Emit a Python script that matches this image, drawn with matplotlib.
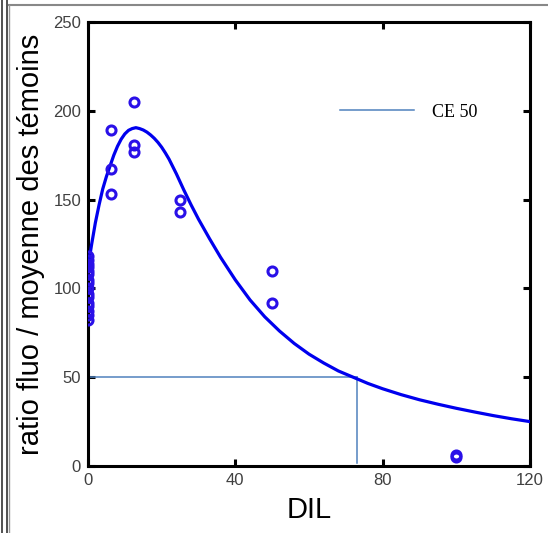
import matplotlib
matplotlib.use("Agg")
import matplotlib.pyplot as plt
from matplotlib.lines import Line2D

# measured points (dilution, ratio)
dil_pts = [0, 0, 0, 0, 0, 0, 0, 0, 0, 0, 0, 0, 0, 0, 0, 0,
           6.25, 6.25, 6.25, 12.5, 12.5, 12.5, 25, 25, 50, 50, 100, 100]
ratio_pts = [118, 116, 114, 112, 110, 108, 105, 103, 100, 97, 95, 92, 90, 87, 85, 82,
             189, 167, 153, 205, 181, 177, 150, 143, 110, 92, 6, 5]

# fitted curve
curve_x = [0, 1, 2, 3, 4, 5, 6, 7, 8, 9, 10, 11, 12, 13, 14, 15, 16, 17, 18, 19, 20,
           21, 22, 24, 26, 28, 30, 33, 36, 40, 44, 48, 52, 56, 60, 64, 68, 72, 76,
           80, 85, 90, 95, 100, 105, 110, 115, 120]
curve_y = [112, 125, 137, 147, 156, 163, 169, 175, 180, 184, 187, 189, 190, 190.5, 190, 189.2, 188, 186.4, 184.5, 182.2, 179.5,
           176.3, 172.8, 164.5, 155.5, 147, 139, 128, 117.5, 104.8, 93.5, 84, 76, 69, 63, 58, 53.5, 50, 46.5,
           43.5, 40.2, 37.3, 34.8, 32.5, 30.4, 28.4, 26.6, 25]

# CE 50 guide
ce50_x = 73
ce50_y = 50

fig = plt.figure(figsize=(5.48, 5.33), dpi=100)
ax = fig.add_axes([0.1606, 0.1257, 0.8064, 0.833])

ax.plot(curve_x, curve_y, color="#0000ee", lw=2.3, zorder=3)
ax.plot(dil_pts, ratio_pts, "o", ms=6.5, mfc="none", mec="#2a10e8", mew=2.2, zorder=4)

guide = "#4f81bd"
ax.plot([0, ce50_x], [ce50_y, ce50_y], color=guide, lw=1.1, zorder=2)
ax.plot([ce50_x, ce50_x], [ce50_y, 1.5], color=guide, lw=1.1, zorder=2)

h = Line2D([], [], color=guide, lw=1.1)
ax.legend([h], ["CE 50"], loc="center left", bbox_to_anchor=(0.57, 0.797),
          frameon=False, borderpad=0, borderaxespad=0, handlelength=4.1,
          handletextpad=1.0, prop={"family": "Liberation Serif", "size": 13})

ax.set_xlim(0, 120)
ax.set_ylim(0, 250)
ax.set_xticks([0, 40, 80, 120])
ax.set_yticks([0, 50, 100, 150, 200, 250])
for s in ax.spines.values():
    s.set_linewidth(2.2)
ax.tick_params(direction="in", length=5, width=2.2, top=True, right=True,
               labelsize=12, labelcolor="#404040", pad=5)
for lab in ax.get_xticklabels() + ax.get_yticklabels():
    lab.set_family("Liberation Sans")

ax.set_xlabel("DIL", fontsize=21, family="Liberation Sans", labelpad=6)
ax.set_ylabel("ratio fluo / moyenne des témoins", fontsize=21,
              family="Liberation Sans", labelpad=6)

# outer frame of the original screenshot
W, H = 548, 533
fig.add_artist(Line2D([1.5 / W, 1.5 / W], [0, 1], color="#333333", lw=1.2))
fig.add_artist(Line2D([7 / W, 7 / W], [0, 1], color="#333333", lw=1.2))
fig.add_artist(Line2D([9 / W, 1], [1 - 5 / H, 1 - 5 / H], color="#888888", lw=1.5))
fig.add_artist(Line2D([9 / W, 9 / W], [0, 1 - 5 / H], color="#999999", lw=1.0))

fig.savefig("out.png", dpi=100)
